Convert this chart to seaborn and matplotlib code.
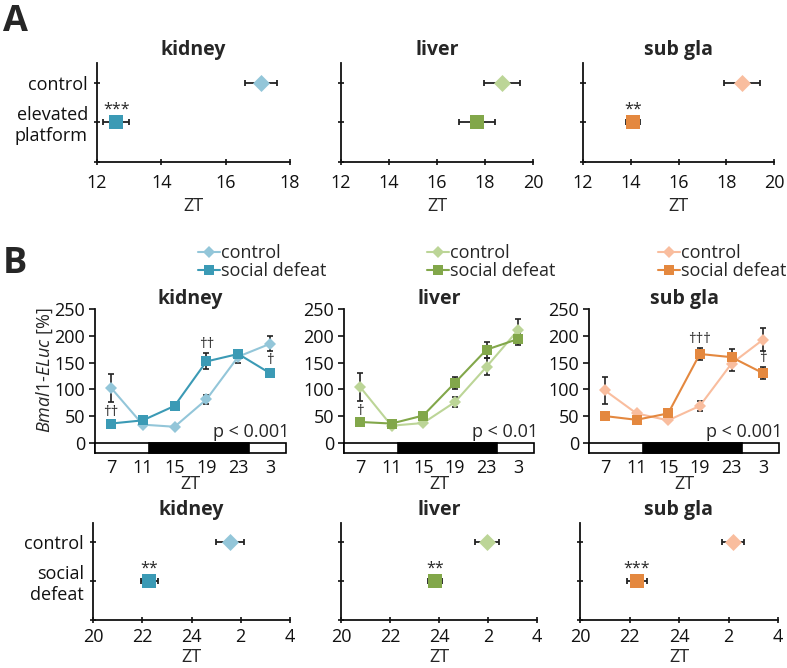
import matplotlib
matplotlib.use('Agg')
import matplotlib.pyplot as plt
import matplotlib.transforms as mtransforms
from matplotlib.patches import Rectangle
from matplotlib.lines import Line2D
import seaborn as sns
import pandas as pd

sns.set_style('ticks')
plt.rcParams['font.family'] = ['Open Sans', 'DejaVu Sans']
plt.rcParams['mathtext.fontset'] = 'custom'
plt.rcParams['mathtext.it'] = 'Open Sans:italic'
plt.rcParams['mathtext.rm'] = 'Open Sans'
plt.rcParams['axes.linewidth'] = 1.3
plt.rcParams['axes.edgecolor'] = '#111111'

W, H = 787, 668

tissues = ['kidney', 'liver', 'sub gla']
ctrl_colors = ['#93c6d9', '#bcd597', '#f9bd9e']
treat_colors = ['#3b9ab5', '#82a74a', '#e4883f']

# ---- panel A: phase (ZT), control vs elevated platform ----
a_groups = ['control', 'elevated\nplatform']
a_ctrl_phase = [17.1, 18.7, 18.67]
a_ctrl_err = [0.5, 0.75, 0.75]
a_ep_phase = [12.6, 17.65, 14.1]
a_ep_err = [0.4, 0.75, 0.3]
a_stars = ['***', '', '**']
a_xticks = [[12, 14, 16, 18], [12, 14, 16, 18, 20], [12, 14, 16, 18, 20]]

# ---- panel B: Bmal1-ELuc time course ----
zt = [7, 11, 15, 19, 23, 27]
zt_labels = ['7', '11', '15', '19', '23', '3']
b_ctrl = [[103, 34, 30, 81, 161, 185],
          [105, 32, 37, 76, 142, 211],
          [98, 55, 42, 69, 148, 193]]
b_ctrl_err = [[26, 3, 3, 8, 12, 14],
              [26, 3, 3, 9, 16, 20],
              [25, 4, 4, 9, 14, 21]]
b_sd = [[36, 42, 69, 152, 166, 130],
        [39, 36, 51, 112, 174, 194],
        [50, 43, 55, 166, 160, 130]]
b_sd_err = [[4, 4, 4, 15, 8, 7],
            [4, 4, 4, 11, 15, 12],
            [4, 4, 4, 11, 15, 11]]
b_daggers = [{0: '††', 3: '††', 5: '†'}, {0: '†'}, {3: '†††', 5: '†'}]
b_pvals = ['p < 0.001', 'p < 0.01', 'p < 0.001']
dark_start, dark_end = 11.8, 24.3

# ---- bottom row: phase (ZT), control vs social defeat ----
c_groups = ['control', 'social\ndefeat']
c_ctrl_phase = [25.57, 25.96, 26.18]
c_ctrl_err = [0.57, 0.5, 0.45]
c_sd_phase = [22.28, 23.84, 22.3]
c_sd_err = [0.35, 0.28, 0.42]
c_stars = ['**', '**', '***']
c_xticks = [20, 22, 24, 26, 28]
c_xticklabels = ['20', '22', '24', '2', '4']


def rect(l, t, w, h):
    return [l / W, 1 - (t + h) / H, w / W, h / H]


fig = plt.figure(figsize=(W / 100, H / 100), dpi=100)


def phase_panel(ax, groups, vals, errs, colors, star, xticks, xticklabels,
                title, show_ylabels, xpad, labelpad):
    df = pd.DataFrame({'group': groups, 'zt': vals, 'pos': [2, 1]})
    ax.errorbar(df['zt'], df['pos'], xerr=errs, fmt='none', ecolor='#222222',
                elinewidth=1.3, capsize=2.5, capthick=1.3, zorder=2)
    sns.scatterplot(data=df.iloc[[0]], x='zt', y='pos', marker='D', s=75,
                    color=colors[0], linewidth=0, ax=ax, zorder=3)
    sns.scatterplot(data=df.iloc[[1]], x='zt', y='pos', marker='s', s=95,
                    color=colors[1], linewidth=0, ax=ax, zorder=3)
    if star:
        ax.text(vals[1], 1.33, star, ha='center', va='center', fontsize=11.5)
    ax.set_xlim(xticks[0], xticks[-1])
    ax.set_ylim(0, 2.5)
    ax.set_xticks(xticks)
    ax.set_xticklabels(xticklabels if xticklabels else [str(t) for t in xticks])
    ax.set_yticks([0, 1, 2])
    ax.set_yticklabels(['', groups[1], groups[0]] if show_ylabels else [])
    ax.tick_params(axis='both', direction='inout', length=5, width=1.2,
                   labelsize=13, colors='#111111')
    ax.tick_params(axis='x', pad=xpad)
    ax.tick_params(axis='y', pad=4)
    ax.set_xlabel('ZT', fontsize=13, labelpad=labelpad)
    ax.set_ylabel('')
    ax.set_title(title, fontsize=14, fontweight='bold', pad=6)
    sns.despine(ax=ax)


# row A
a_lefts = [97, 341, 583]
a_widths = [193, 192, 191]
for i, t in enumerate(tissues):
    ax = fig.add_axes(rect(a_lefts[i], 63, a_widths[i], 99))
    phase_panel(ax, a_groups, [a_ctrl_phase[i], a_ep_phase[i]],
                [a_ctrl_err[i], a_ep_err[i]], [ctrl_colors[i], treat_colors[i]],
                a_stars[i], a_xticks[i], None, t, i == 0, 6, 4)

# row B
b_lefts = [95, 344, 589]
b_widths = [191, 190, 190]
leg_x = [198, 427, 658]
for i, t in enumerate(tissues):
    ax = fig.add_axes(rect(b_lefts[i], 309, b_widths[i], 144))
    ax.errorbar(zt, b_ctrl[i], yerr=b_ctrl_err[i], fmt='none', ecolor='#222222',
                elinewidth=1.2, capsize=2, capthick=1.2, zorder=1.5)
    ax.errorbar(zt, b_sd[i], yerr=b_sd_err[i], fmt='none', ecolor='#222222',
                elinewidth=1.2, capsize=2, capthick=1.2, zorder=1.5)
    sns.lineplot(x=zt, y=b_ctrl[i], color=ctrl_colors[i], marker='D',
                 markersize=6.5, markeredgewidth=0, lw=1.5, ax=ax, zorder=2)
    sns.lineplot(x=zt, y=b_sd[i], color=treat_colors[i], marker='s',
                 markersize=7, markeredgewidth=0, lw=1.5, ax=ax, zorder=3)
    for k, s in b_daggers[i].items():
        ax.text(zt[k], b_sd[i][k] + b_sd_err[i][k] + 16, s, ha='center',
                va='center', fontsize=11)
    ax.set_xlim(5, 29)
    ax.set_ylim(-19, 250)
    ax.set_yticks([0, 50, 100, 150, 200, 250])
    ax.set_xticks(zt)
    ax.set_xticklabels(zt_labels)
    ax.tick_params(axis='y', direction='out', length=4, width=1.2, pad=3,
                   labelsize=13, colors='#111111')
    ax.tick_params(axis='x', length=0, pad=4, labelsize=13, colors='#111111')
    ax.add_patch(Rectangle((5, -19), 24, 19, facecolor='white', edgecolor='black',
                           lw=1.2, clip_on=False, zorder=4))
    ax.add_patch(Rectangle((dark_start, -19), dark_end - dark_start, 19,
                           facecolor='black', edgecolor='black', lw=1.2,
                           clip_on=False, zorder=4))
    trans = mtransforms.blended_transform_factory(ax.transAxes, ax.transData)
    ax.text(1.02, 3, b_pvals[i], transform=trans, ha='right', va='bottom',
            fontsize=13)
    ax.set_xlabel('ZT', fontsize=13, labelpad=-1)
    ax.set_title(t, fontsize=14, fontweight='bold', pad=3)
    sns.despine(ax=ax, bottom=True)
    handles = [Line2D([], [], color=ctrl_colors[i], marker='D', markersize=6.5,
                      markeredgewidth=0, lw=1.5),
               Line2D([], [], color=treat_colors[i], marker='s', markersize=7,
                      markeredgewidth=0, lw=1.5)]
    ax.legend(handles, ['control', 'social defeat'], loc='center left',
              bbox_to_anchor=(leg_x[i] / W, 1 - 262 / H),
              bbox_transform=fig.transFigure, frameon=False, fontsize=13,
              handlelength=1.2, handletextpad=0.1, labelspacing=0.0,
              borderpad=0, borderaxespad=0)
    if i == 0:
        fig.text(45 / W, 1 - 370 / H, r'$\mathit{Bmal1}$-$\mathit{ELuc}$ [%]',
                 rotation=90, ha='center', va='center', fontsize=13)

# bottom row
c_lefts = [93, 341, 580]
c_widths = [197, 196, 198]
for i, t in enumerate(tissues):
    ax = fig.add_axes(rect(c_lefts[i], 523, c_widths[i], 97))
    phase_panel(ax, c_groups, [c_ctrl_phase[i], c_sd_phase[i]],
                [c_ctrl_err[i], c_sd_err[i]], [ctrl_colors[i], treat_colors[i]],
                c_stars[i], c_xticks, c_xticklabels, t, i == 0, 3, 2)

fig.text(3 / W, 1 - 22 / H, 'A', fontsize=26, fontweight='bold', va='center')
fig.text(3 / W, 1 - 264 / H, 'B', fontsize=26, fontweight='bold', va='center')

fig.savefig('out.png', dpi=100)
